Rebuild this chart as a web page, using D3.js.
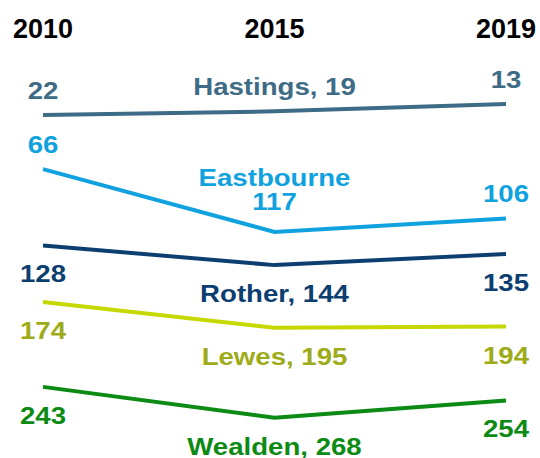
<!DOCTYPE html>
<html>
<head>
<meta charset="utf-8">
<script src="https://cdn.jsdelivr.net/npm/d3@7"></script>
<style>
  body { margin: 0; background: #fff; }
  text { font-family: "Liberation Sans", Arial, sans-serif; font-weight: bold; }
</style>
</head>
<body>
<svg width="540" height="458"></svg>
<script>
// ranks (lower = better), one value per year
const years = ["2010", "2015", "2019"];
const districts = ["Hastings", "Eastbourne", "Rother", "Lewes", "Wealden"];
const hastings = [22, 19, 13];
const eastbourne = [66, 117, 106];
const rother = [128, 144, 135];
const lewes = [174, 195, 194];
const wealden = [243, 268, 254];

const lineColors = ["#3e6b85", "#10a2df", "#0c3e70", "#c5d800", "#0b8a14"];
const textColors = ["#3e6b85", "#10a2df", "#0c3e70", "#9eab18", "#0b8a14"];
// which side of the line the labels sit on
const above = [true, true, false, false, false];

const series = [hastings, eastbourne, rother, lewes, wealden];

const svg = d3.select("svg");

const x = d3.scalePoint().domain(years).range([43, 506]);
const y = d3.scaleLinear().domain([0, 300]).range([88, 457]);

// year headers
svg.selectAll(".year").data(years).join("text")
  .attr("class", "year")
  .attr("x", d => x(d))
  .attr("y", 38)
  .attr("text-anchor", "middle")
  .attr("font-size", 27)
  .attr("fill", "#000")
  .text(d => d);

const line = d3.line()
  .x((d, i) => x(years[i]))
  .y(d => y(d));

svg.selectAll(".rank-line").data(series).join("path")
  .attr("class", "rank-line")
  .attr("d", d => line(d))
  .attr("fill", "none")
  .attr("stroke", (d, i) => lineColors[i])
  .attr("stroke-width", 4);

// slightly stretched text like the original
function label(txt, cx, by, color) {
  svg.append("text")
    .attr("transform", `translate(${cx},${by}) scale(1.15,1)`)
    .attr("text-anchor", "middle")
    .attr("font-size", 24)
    .attr("fill", color)
    .text(txt);
}

series.forEach((vals, i) => {
  const off = above[i] ? -16 : 37;
  vals.forEach((v, j) => {
    const cx = x(years[j]);
    const by = y(v) + off;
    if (j === 1) {
      if (i === 1) {
        label(districts[i], cx, y(v) - 46, textColors[i]);
        label(String(v), cx, y(v) - 22, textColors[i]);
      } else {
        label(districts[i] + ", " + v, cx, by, textColors[i]);
      }
    } else {
      label(String(v), cx, by, textColors[i]);
    }
  });
});
</script>
</body>
</html>
